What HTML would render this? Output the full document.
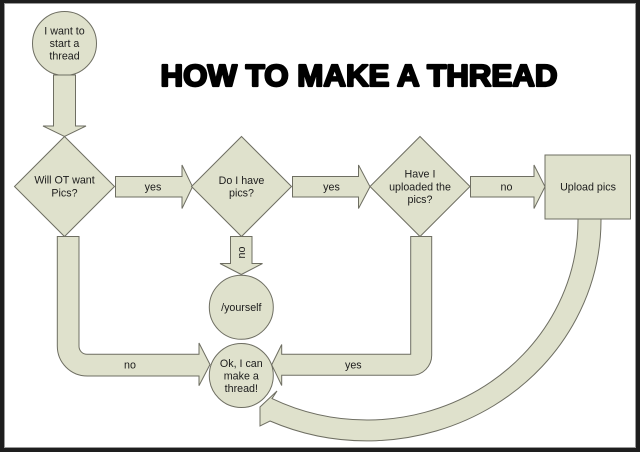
<!DOCTYPE html>
<html>
<head>
<meta charset="utf-8">
<style>
  html, body { margin: 0; padding: 0; background: #fff; }
  svg { display: block; }
  text { font-family: "Liberation Sans", Arial, sans-serif; fill: #1c1c1c; }
</style>
</head>
<body>
<svg width="640" height="452" viewBox="0 0 640 452" xmlns="http://www.w3.org/2000/svg">
  <!-- frame -->
  <rect x="0" y="0" width="640" height="452" fill="#1e1e1e"/>
  <rect x="4" y="3" width="632" height="445" fill="#9a9a9a"/>
  <rect x="5" y="4" width="630" height="443" fill="#ffffff"/>

  <g fill="#dfe1cc" stroke="#6e6e62" stroke-width="1" stroke-linejoin="miter">
    <!-- big curved arrow from Upload pics back to Ok circle -->
    <path d="M 578,219 L 601,219 A 234 221 0 0 1 270,421 L 260,426 L 260,407 L 277,391 L 272,398.6 A 211 200 0 0 0 578,219 Z"/>

    <!-- start circle -->
    <circle cx="64.5" cy="43.5" r="32"/>
    <!-- down arrow from start -->
    <path d="M 53.5,75 L 75.5,75 L 75.5,126 L 86,126 L 64.5,136.5 L 43,126 L 53.5,126 Z"/>

    <!-- diamond 1 -->
    <path d="M 64.5,136.5 L 114.5,186.5 L 64.5,236.5 L 14.5,186.5 Z"/>
    <!-- arrow yes 1 -->
    <path d="M 115.5,176.5 L 182,176.5 L 182,165 L 192.5,186.7 L 182,208.5 L 182,197 L 115.5,197 Z"/>

    <!-- diamond 2 -->
    <path d="M 241.5,136.5 L 291.5,186.5 L 241.5,236.5 L 191.5,186.5 Z"/>
    <!-- arrow yes 2 -->
    <path d="M 292.5,176.5 L 358.5,176.5 L 358.5,165 L 370,186.7 L 358.5,208.5 L 358.5,197 L 292.5,197 Z"/>

    <!-- diamond 3 -->
    <path d="M 420,136.5 L 470,186.5 L 420,236.5 L 370,186.5 Z"/>
    <!-- arrow no 3 -->
    <path d="M 470.5,176.5 L 534,176.5 L 534,165 L 545,186.7 L 534,208.5 L 534,197 L 470.5,197 Z"/>

    <!-- upload box -->
    <rect x="545" y="155" width="85.5" height="64"/>

    <!-- down arrow no under diamond 2 -->
    <path d="M 230.5,236.5 L 252,236.5 L 252,263.5 L 262.5,263.5 L 241.3,274.5 L 220,263.5 L 230.5,263.5 Z"/>

    <!-- yourself circle -->
    <circle cx="241.3" cy="307.3" r="32"/>

    <!-- left connector "no" -->
    <path d="M 57.3,236.5 L 79,236.5 L 79,346.3 A 8 8 0 0 0 87,354.3 L 199,354.3 L 199,343 L 210,364.5 L 199,385.7 L 199,376 L 87.3,376 A 30 30 0 0 1 57.3,346 Z"/>

    <!-- right connector "yes" -->
    <path d="M 410.7,236.5 L 431.7,236.5 L 431.7,355.3 A 20 20 0 0 1 411.7,375.3 L 281.7,375.3 L 281.7,385.5 L 271.7,364.8 L 281.7,344.5 L 281.7,354.3 L 410.7,354.3 Z"/>

    <!-- ok circle -->
    <circle cx="241.3" cy="375.5" r="32"/>
  </g>

  <!-- title -->
  <text x="160.5" y="86.2" font-size="31" font-weight="bold" textLength="397" lengthAdjust="spacingAndGlyphs" style="fill:#000;stroke:#000;stroke-width:2.2;stroke-linejoin:round">HOW TO MAKE A THREAD</text>

  <g font-size="10.7" text-anchor="middle">
    <!-- start circle -->
    <text x="64.5" y="34.5">I want to</text>
    <text x="64.5" y="47">start a</text>
    <text x="64.5" y="59.3">thread</text>

    <!-- diamond 1 -->
    <text x="64.5" y="183.5">Will OT want</text>
    <text x="64.5" y="196.5">Pics?</text>

    <!-- diamond 2 -->
    <text x="241.5" y="184">Do I have</text>
    <text x="241.5" y="196.5">pics?</text>

    <!-- diamond 3 -->
    <text x="420" y="177.5">Have I</text>
    <text x="420" y="190.3">uploaded the</text>
    <text x="420" y="203">pics?</text>

    <!-- arrow labels -->
    <text x="153" y="190.5">yes</text>
    <text x="331.5" y="190.5">yes</text>
    <text x="506.5" y="190.5">no</text>

    <text x="588" y="190.3">Upload pics</text>

    <text x="241.3" y="311">/yourself</text>

    <text x="241.3" y="366.8">Ok, I can</text>
    <text x="241.3" y="379.3">make a</text>
    <text x="241.3" y="391.8">thread!</text>

    <text x="130" y="368.3">no</text>
    <text x="353.3" y="368.3">yes</text>

    <text x="0" y="0" transform="translate(244.8,252.5) rotate(-90)">no</text>
  </g>
</svg>
</body>
</html>
